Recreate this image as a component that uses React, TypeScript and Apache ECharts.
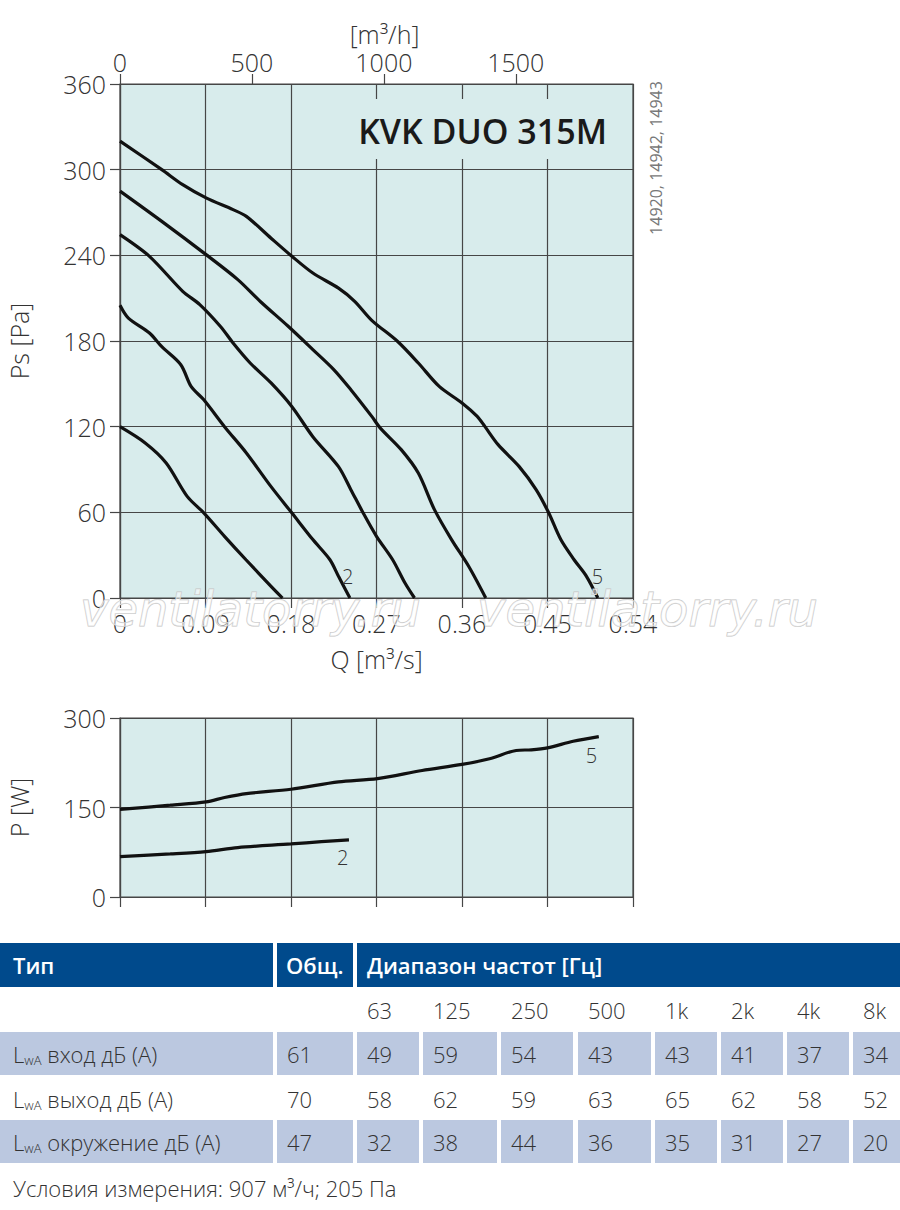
import React, { useEffect, useRef } from "react";
import * as echarts from "echarts";

// ---------- data ----------
// Ps [Pa] vs Q [m3/s] curves (speed steps 1..5)
const c1Q = [0, 0.0265, 0.0486, 0.0707, 0.0884, 0.11, 0.1326, 0.159, 0.171];
const c1P = [120, 108.6, 94.6, 71.2, 59.5, 43.2, 26.8, 8.2, 0];
const c2Q = [0, 0.0088, 0.031, 0.044, 0.064, 0.075, 0.088, 0.11, 0.133, 0.159, 0.181, 0.203, 0.221, 0.23, 0.242];
const c2P = [205, 196, 185.6, 176, 163.4, 148, 139, 120, 101.6, 78, 59.5, 40.9, 26.8, 15.2, 0];
const c3Q = [0, 0.031, 0.066, 0.084, 0.106, 0.119, 0.137, 0.159, 0.181, 0.203, 0.23, 0.243, 0.256, 0.27, 0.287, 0.3, 0.31];
const c3P = [254.5, 239.3, 214.8, 205.5, 190, 178.6, 164.6, 150.6, 134, 113, 92, 75.9, 59.5, 43.2, 26.8, 10.5, 0];
const c4Q = [0, 0.044, 0.0906, 0.124, 0.148, 0.177, 0.203, 0.225, 0.243, 0.265, 0.274, 0.296, 0.314, 0.331, 0.349, 0.367, 0.385];
const c4P = [285, 263.8, 240.5, 223, 207.5, 190.3, 174, 160, 145.9, 127.2, 119, 103.9, 87.5, 61.9, 40.9, 22.2, 0];
const c5Q = [0, 0.044, 0.066, 0.0906, 0.119, 0.133, 0.159, 0.181, 0.203, 0.23, 0.247, 0.265, 0.292, 0.314, 0.336, 0.36, 0.376, 0.384, 0.398, 0.42, 0.438, 0.451, 0.464, 0.478, 0.491, 0.503];
const c5P = [320, 300, 289.5, 280.2, 272, 267.3, 252, 239.3, 227.6, 217, 207.8, 194.5, 179.8, 164.6, 148.2, 136.6, 127.2, 120.2, 107.4, 92.2, 75.9, 60, 40.9, 26.8, 15.2, 0];

// Power P [W] vs Q [m3/s]
const p2Q = [0, 0.053, 0.0906, 0.124, 0.18, 0.212, 0.241];
const p2P = [67.8, 72.2, 76.1, 82.8, 88.9, 92.8, 95.6];
const p5Q = [0, 0.053, 0.0906, 0.11, 0.133, 0.18, 0.23, 0.271, 0.318, 0.36, 0.389, 0.417, 0.433, 0.45, 0.477, 0.504];
const p5P = [146.7, 153.9, 159.4, 166.7, 173.3, 180.6, 192.8, 198.3, 212, 222.2, 231.7, 245.6, 246.7, 250, 261, 268.9];

// top axis tick labels [m3/h]
const flowTicksM3h = [0, 500, 1000, 1500];

// sound table
const bandLabels = ["63", "125", "250", "500", "1k", "2k", "4k", "8k"];
const rowNames = ["вход", "выход", "окружение"];
const totals = [61, 70, 47];
const inletLw = [49, 59, 54, 43, 43, 41, 37, 34];
const outletLw = [58, 62, 59, 63, 65, 62, 58, 52];
const ambientLw = [32, 38, 44, 36, 35, 31, 27, 20];
const rowValues = [inletLw, outletLw, ambientLw];

const title = "KVK DUO 315M";
const sideNote = "14920, 14942, 14943";
const footnote = "Условия измерения: 907 м³/ч; 205 Па";

// ---------- styles ----------
const FONT = '"Open Sans", "Noto Sans", "DejaVu Sans", sans-serif';
const TXT = "#333333";
const BG = "#d8ecec";
const GC = "#464646";
const CURVE = "#111111";
const BLUE = "#004a8c";
const CELL = "#bbc8e0";

const zip = (q: number[], p: number[]) => q.map((v, i) => [v, p[i]]);

function buildTable(): any[] {
  const els: any[] = [];
  const rect = (x: number, y: number, w: number, h: number, fill: string) => ({
    type: "rect",
    shape: { x, y, width: w, height: h },
    style: { fill },
    z: 5,
  });
  const txt = (x: number, y: number, text: string, extra: any = {}) => ({
    type: "text",
    x,
    y,
    z: 6,
    style: {
      text,
      fill: TXT,
      fontSize: 22,
      fontFamily: FONT,
      fontWeight: 300,
      align: "left",
      verticalAlign: "middle",
      ...extra,
    },
  });
  const headY = 943;
  const headH = 44;
  const colX = [357, 423, 501, 578, 655, 721, 787, 853];
  const colW = [62, 74, 72, 73, 62, 62, 62, 47];
  els.push(rect(0, headY, 273, headH, BLUE));
  els.push(rect(277, headY, 76, headH, BLUE));
  els.push(rect(357, headY, 543, headH, BLUE));
  const hs = { fill: "#ffffff", fontWeight: 600, fontSize: 22 };
  els.push(txt(13, headY + headH / 2, "Тип", hs));
  els.push(txt(286, headY + headH / 2, "Общ.", hs));
  els.push(txt(367, headY + headH / 2, "Диапазон частот [Гц]", hs));
  bandLabels.forEach((b, i) => els.push(txt(colX[i] + 10, 1010, b)));
  const rowTop = [1032, 1077, 1120];
  const rowH = [43, 43, 43];
  rowNames.forEach((name, r) => {
    const shaded = r !== 1;
    const cy = rowTop[r] + rowH[r] / 2;
    if (shaded) {
      els.push(rect(0, rowTop[r], 273, rowH[r], CELL));
      els.push(rect(277, rowTop[r], 76, rowH[r], CELL));
      colX.forEach((x, i) => els.push(rect(x, rowTop[r], colW[i], rowH[r], CELL)));
    }
    els.push({
      type: "text",
      x: 13,
      y: cy,
      z: 6,
      style: {
        text: `{l|L}{s|wA}{l| ${name} дБ (А)}`,
        verticalAlign: "middle",
        align: "left",
        rich: {
          l: { fontSize: 22, fontFamily: FONT, fontWeight: 300, fill: TXT, color: TXT, verticalAlign: "bottom" },
          s: { fontSize: 13, fontFamily: FONT, fontWeight: 300, fill: TXT, color: TXT, verticalAlign: "bottom", padding: [0, 0, -2, 0] },
        },
      },
    });
    els.push(txt(287, cy, String(totals[r])));
    rowValues[r].forEach((v, i) => els.push(txt(colX[i] + 10, cy, String(v))));
  });
  els.push(txt(13, 1188, footnote));
  return els;
}

export default function App() {
  const ref = useRef<HTMLDivElement>(null);
  useEffect(() => {
    document.body.style.margin = "0";
    if (!ref.current) return;
    const chart = echarts.init(ref.current, undefined, { renderer: "svg" });
    const axisLineStyle = { color: GC, width: 1.2 };
    const labelStyle = { fontSize: 25, color: TXT, fontFamily: FONT, fontWeight: 300 as any };
    const nameStyle = { fontSize: 25, color: TXT, fontFamily: FONT, fontWeight: 300 as any };
    const curveSeries = (data: number[][], label?: string, xi = 0, yi = 0, off: number[] = [0, 0]) => ({
      type: "line",
      xAxisIndex: xi,
      yAxisIndex: yi,
      data,
      showSymbol: false,
      smooth: 0.3,
      silent: true,
      lineStyle: { color: CURVE, width: 3.2 },
      endLabel: label
        ? { show: true, formatter: label, offset: off, fontSize: 20, color: TXT, fontFamily: FONT, fontWeight: 300 }
        : { show: false },
      z: 3,
    });
    const wm = (x: number) => ({
      type: "text",
      x,
      y: 609,
      z: 20,
      silent: true,
      style: {
        text: "ventilatorry.ru",
        fontSize: 48,
        fontStyle: "italic",
        fontFamily: '"DejaVu Sans", sans-serif',
        fill: "rgba(255,255,255,0.55)",
        stroke: "#c4c4c4",
        lineWidth: 1,
        align: "left",
        verticalAlign: "middle",
      },
    });
    const option: any = {
      animation: false,
      grid: [
        { left: 120, top: 84, width: 513, height: 514, show: true, backgroundColor: BG, borderColor: GC, borderWidth: 1.2, outerBoundsMode: "none", containLabel: false },
        { left: 120, top: 718, width: 513, height: 179, show: true, backgroundColor: BG, borderColor: GC, borderWidth: 1.2, outerBoundsMode: "none", containLabel: false },
      ],
      xAxis: [
        {
          type: "value",
          gridIndex: 0,
          position: "bottom",
          min: 0,
          max: 0.54,
          interval: 0.09,
          axisLine: { show: true, lineStyle: axisLineStyle },
          axisTick: { show: true, length: 10, lineStyle: axisLineStyle },
          splitLine: { show: true, lineStyle: axisLineStyle },
          axisLabel: { ...labelStyle, margin: 12, formatter: (v: number) => (v === 0 ? "0" : v.toFixed(2)) },
          name: "Q [m³/s]",
          nameLocation: "middle",
          nameGap: 48,
          nameTextStyle: nameStyle,
        },
        {
          type: "value",
          gridIndex: 0,
          position: "top",
          min: 0,
          max: 1944,
          interval: 500,
          axisLine: { show: true, lineStyle: axisLineStyle },
          axisTick: { show: true, length: 10, lineStyle: axisLineStyle, customValues: flowTicksM3h },
          splitLine: { show: false },
          axisLabel: { ...labelStyle, margin: 10, customValues: flowTicksM3h, formatter: (v: number) => String(v) },
          name: "[m³/h]",
          nameLocation: "middle",
          nameGap: 38,
          nameTextStyle: { ...nameStyle, padding: [0, 0, 0, 16] },
        },
        {
          type: "value",
          gridIndex: 1,
          min: 0,
          max: 0.54,
          interval: 0.09,
          axisLine: { show: true, lineStyle: axisLineStyle },
          axisTick: { show: true, length: 10, lineStyle: axisLineStyle },
          splitLine: { show: true, lineStyle: axisLineStyle },
          axisLabel: { show: false },
        },
      ],
      yAxis: [
        {
          type: "value",
          gridIndex: 0,
          min: 0,
          max: 360,
          interval: 60,
          axisLine: { show: true, lineStyle: axisLineStyle },
          axisTick: { show: true, length: 10, lineStyle: axisLineStyle },
          splitLine: { show: true, lineStyle: axisLineStyle },
          axisLabel: { ...labelStyle, margin: 14 },
          name: "Ps [Pa]",
          nameLocation: "middle",
          nameGap: 89,
          nameTextStyle: nameStyle,
        },
        {
          type: "value",
          gridIndex: 1,
          min: 0,
          max: 300,
          interval: 150,
          axisLine: { show: true, lineStyle: axisLineStyle },
          axisTick: { show: true, length: 10, lineStyle: axisLineStyle },
          splitLine: { show: true, lineStyle: axisLineStyle },
          axisLabel: { ...labelStyle, margin: 14 },
          name: "P [W]",
          nameLocation: "middle",
          nameGap: 89,
          nameTextStyle: nameStyle,
        },
      ],
      series: [
        curveSeries(zip(c1Q, c1P)),
        curveSeries(zip(c2Q, c2P), "2", 0, 0, [-16, -22]),
        curveSeries(zip(c3Q, c3P)),
        curveSeries(zip(c4Q, c4P)),
        curveSeries(zip(c5Q, c5P), "5", 0, 0, [-14, -22]),
        curveSeries(zip(p2Q, p2P), "2", 2, 1, [-20, 18]),
        curveSeries(zip(p5Q, p5P), "5", 2, 1, [-21, 19]),
      ],
      graphic: [
        { type: "rect", shape: { x: 340, y: 99, width: 292, height: 60 }, style: { fill: BG }, z: 10, silent: true },
        {
          type: "text",
          x: 607,
          y: 131,
          z: 11,
          style: { text: title, fontSize: 34, fontWeight: 600, fontFamily: FONT, fill: "#1a1a1a", align: "right", verticalAlign: "middle" },
        },
        {
          type: "text",
          x: 656,
          y: 158,
          rotation: Math.PI / 2,
          z: 11,
          style: { text: sideNote, fontSize: 16, fontFamily: FONT, fill: "#777777", align: "center", verticalAlign: "middle" },
        },
        wm(80),
        wm(477),
        ...buildTable(),
      ],
    };
    chart.setOption(option);
    return () => chart.dispose();
  }, []);
  return <div ref={ref} style={{ position: "absolute", left: 0, top: 0, width: 900, height: 1210, background: "#fff" }} />;
}
